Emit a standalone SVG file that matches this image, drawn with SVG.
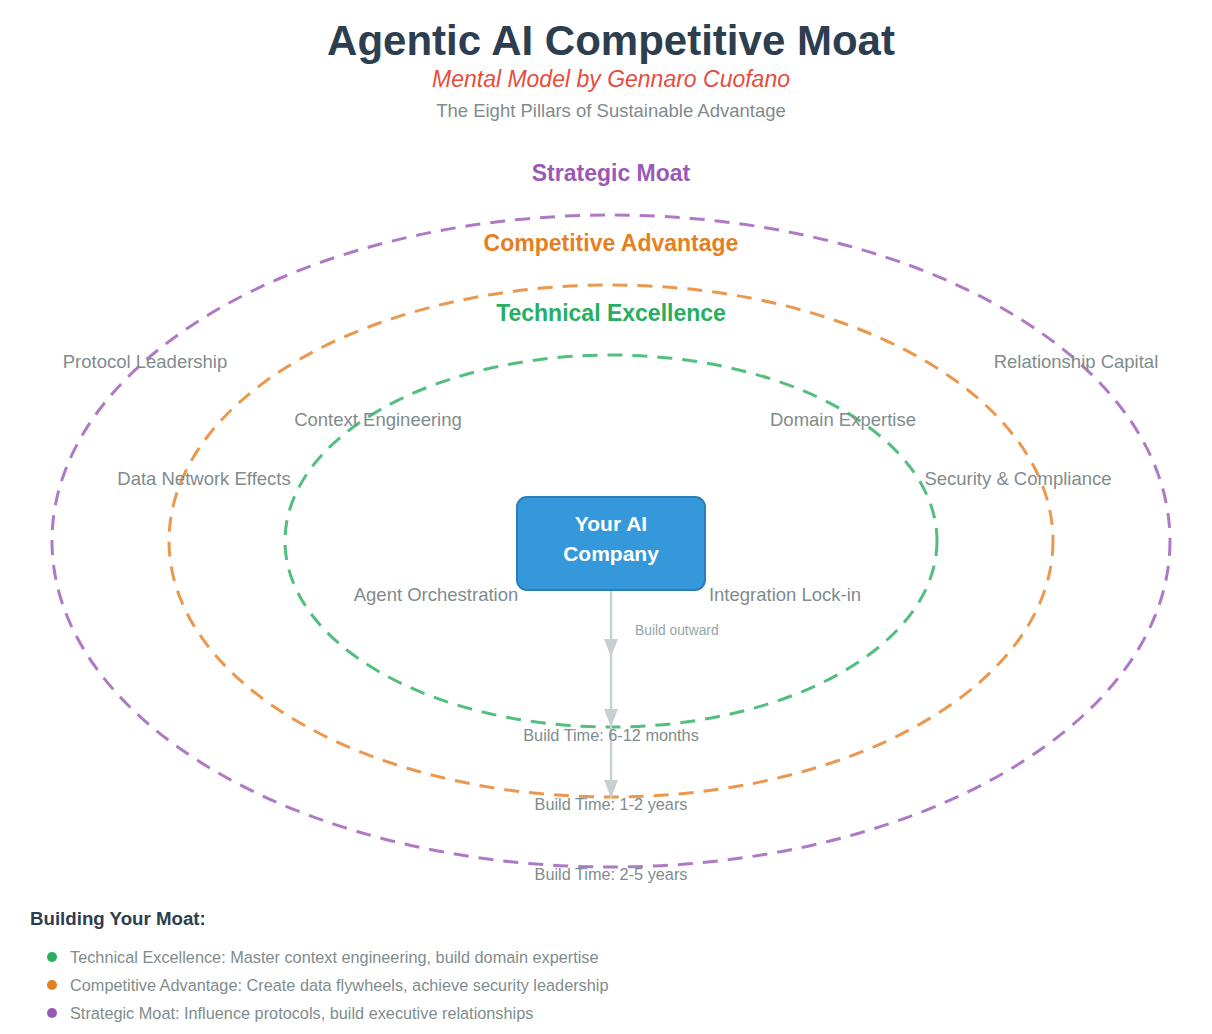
<svg xmlns="http://www.w3.org/2000/svg" width="1212" height="1034" viewBox="0 0 1212 1034">
<defs>
<style>
text{font-family:"Liberation Sans",Arial,Helvetica,sans-serif}
.ring{fill:none;stroke-width:3;stroke-dasharray:15,10;opacity:0.8}
.rl{font-size:23px;font-weight:bold;text-anchor:middle}
.pl{font-size:18.5px;fill:#7f8c8d;text-anchor:middle}
.bt{font-size:16.3px;fill:#7f8c8d;text-anchor:middle}
.lg{font-size:16.3px;fill:#7f8c8d}
.conn{stroke:#c7cfd1;stroke-width:2.5;fill:none}
</style>
<marker id="ah" viewBox="0 0 18 14" markerWidth="18" markerHeight="14" refX="18" refY="7" orient="auto" markerUnits="userSpaceOnUse">
<path d="M0,0 L18,7 L0,14 Z" fill="#c7cfd1"/>
</marker>
</defs>
<rect width="1212" height="1034" fill="#ffffff"/>
<g id="header">
<text x="611" y="55" text-anchor="middle" font-size="42" font-weight="bold" fill="#2c3e50">Agentic AI Competitive Moat</text>
<text x="611" y="87" text-anchor="middle" font-size="23" font-style="italic" fill="#e74c3c">Mental Model by Gennaro Cuofano</text>
<text x="611" y="117" text-anchor="middle" font-size="18.5" fill="#7f8c8d">The Eight Pillars of Sustainable Advantage</text>
</g>
<g id="ring-strategic">
<ellipse class="ring" cx="611" cy="541" rx="559" ry="326" stroke="#9b59b6"/>
<text class="rl" x="611" y="181" fill="#9b59b6">Strategic Moat</text>
</g>
<g id="ring-competitive">
<ellipse class="ring" cx="611" cy="541" rx="442" ry="256" stroke="#e67e22"/>
<text class="rl" x="611" y="251" fill="#e67e22">Competitive Advantage</text>
</g>
<g id="ring-technical">
<ellipse class="ring" cx="611" cy="541" rx="326" ry="186" stroke="#27ae60"/>
<text class="rl" x="611" y="321" fill="#27ae60">Technical Excellence</text>
</g>
<g id="pillars">
<text class="pl" x="145" y="368">Protocol Leadership</text>
<text class="pl" x="1076" y="368">Relationship Capital</text>
<text class="pl" x="378" y="426">Context Engineering</text>
<text class="pl" x="843" y="426">Domain Expertise</text>
<text class="pl" x="204" y="485">Data Network Effects</text>
<text class="pl" x="1018" y="485">Security &amp; Compliance</text>
<text class="pl" x="436" y="601">Agent Orchestration</text>
<text class="pl" x="785" y="601">Integration Lock-in</text>
</g>
<g id="connectors">
<line class="conn" x1="611" y1="590" x2="611" y2="657" marker-end="url(#ah)"/>
<line class="conn" x1="611" y1="657" x2="611" y2="727" marker-end="url(#ah)"/>
<line class="conn" x1="611" y1="727" x2="611" y2="798" marker-end="url(#ah)"/>
<text x="635" y="635" font-size="13.8" fill="#95a5a6">Build outward</text>
</g>
<g id="company">
<rect x="517" y="497" width="188" height="93" rx="10" fill="#3498db" stroke="#2980b9" stroke-width="2"/>
<text x="611" y="531" text-anchor="middle" font-size="21" font-weight="bold" fill="#ffffff">Your AI</text>
<text x="611" y="561" text-anchor="middle" font-size="21" font-weight="bold" fill="#ffffff">Company</text>
</g>
<g id="build-times">
<text class="bt" x="611" y="741">Build Time: 6-12 months</text>
<text class="bt" x="611" y="810">Build Time: 1-2 years</text>
<text class="bt" x="611" y="880">Build Time: 2-5 years</text>
</g>
<g id="legend">
<text x="30" y="925" font-size="18.7" font-weight="bold" fill="#2c3e50">Building Your Moat:</text>
<circle cx="52" cy="957" r="5" fill="#27ae60"/>
<text class="lg" x="70" y="963">Technical Excellence: Master context engineering, build domain expertise</text>
<circle cx="52" cy="985" r="5" fill="#e67e22"/>
<text class="lg" x="70" y="991">Competitive Advantage: Create data flywheels, achieve security leadership</text>
<circle cx="52" cy="1013" r="5" fill="#9b59b6"/>
<text class="lg" x="70" y="1019">Strategic Moat: Influence protocols, build executive relationships</text>
</g>
</svg>
